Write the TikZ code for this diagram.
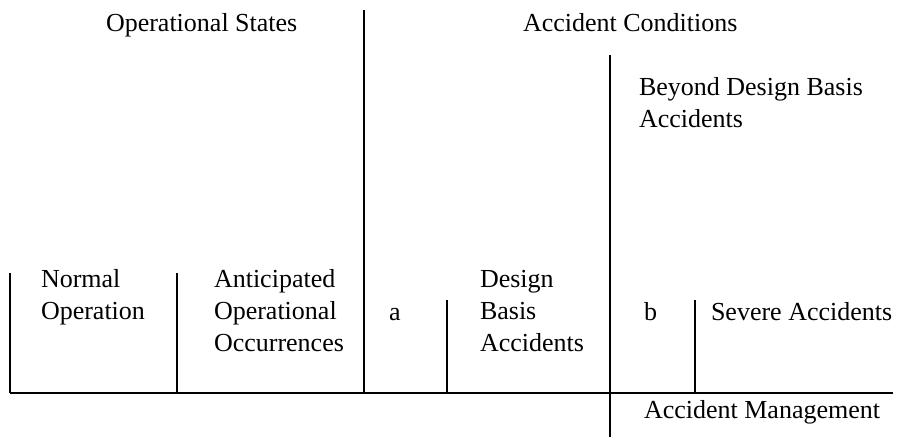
\documentclass[tikz,border=0pt]{standalone}
\usepackage{fontspec}
\setmainfont{Liberation Serif}

\tikzset{every picture/.style={line width=1.5pt}}

\begin{document}
\begin{tikzpicture}[x=0.75pt,y=0.75pt,yscale=-1,xscale=1]
\useasboundingbox (0,0) rectangle (899,437);
\tikzset{every node/.style={font=\fontsize{19.5}{24}\selectfont, inner sep=0pt, align=left}}

%Straight Lines [id:base]
\draw    (10,393) -- (893,393) ;
%Straight Lines [id:normal]
\draw    (10,273) -- (10,393) ;
%Straight Lines [id:aoo]
\draw    (177,273) -- (177,393) ;
%Straight Lines [id:opstates]
\draw    (364,10) -- (364,393) ;
%Straight Lines [id:dba]
\draw    (447,300) -- (447,393) ;
%Straight Lines [id:bdba]
\draw    (610,55) -- (610,437) ;
%Straight Lines [id:severe]
\draw    (695,300) -- (695,393) ;

% Text Node
\draw (105,31) node [anchor=base west] (opst) {Operational States};
% Text Node
\draw (522,31) node [anchor=base west] (accond) {Accident Conditions};
% Text Node
\draw (638,127) node [anchor=base west] (beyond) {Beyond Design Basis\\Accidents};
% Text Node
\draw (40,319) node [anchor=base west] (normop) {Normal\\Operation};
% Text Node
\draw (213,351) node [anchor=base west] (antocc) {Anticipated\\Operational\\Occurrences};
% Text Node
\draw (388,320) node [anchor=base west] (ga) {a};
% Text Node
\draw (479,351) node [anchor=base west] (desbas) {Design\\Basis\\Accidents};
% Text Node
\draw (643,320) node [anchor=base west] (gb) {b};
% Text Node
\draw (710,320) node [anchor=base west] (severe) {Severe Accidents};
% Text Node
\draw (643,418) node [anchor=base west] (accman) {Accident Management};

\end{tikzpicture}
\end{document}
